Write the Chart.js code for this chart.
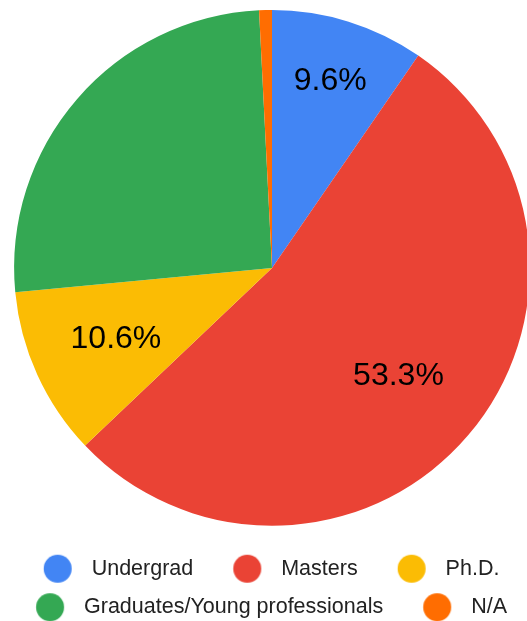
<!DOCTYPE html>
<html>
<head>
<meta charset="utf-8">
<script src="https://cdn.jsdelivr.net/npm/chart.js@4"></script>
<style>
    html, body { margin: 0; padding: 0; background: #fff; overflow: hidden; }
    #wrap { position: relative; width: 544px; height: 628px; }
</style>
</head>
<body>
<div id="wrap"><canvas id="pieChart"></canvas></div>
<script>
// -------------------------------
// DATA
// -------------------------------
const categories = ["Undergrad", "Masters", "Ph.D.", "Graduates/Young professionals", "N/A"];
const shares = [9.6, 53.3, 10.6, 25.7, 0.8];
const colors = ["#4285F4", "#EA4335", "#FBBC04", "#34A853", "#FF6D01"];
const unlabelled = ["Graduates/Young professionals", "N/A"];

const FONT = "'Liberation Sans', Arial, sans-serif";

// small round swatch for the legend, drawn a bit to the right of the box centre
function makeDot(color) {
    const c = document.createElement("canvas");
    c.width = 32;
    c.height = 32;
    const g = c.getContext("2d");
    g.fillStyle = color;
    g.beginPath();
    g.arc(16.9, 16, 14, 0, Math.PI * 2);
    g.fill();
    return c;
}

// -------------------------------
// SLICE LABELS
// -------------------------------
const sliceLabels = {
    id: "sliceLabels",
    afterDatasetsDraw(chart, args, opts) {
        const ctx = chart.ctx;
        const meta = chart.getDatasetMeta(0);
        const values = chart.data.datasets[0].data;
        const total = values.reduce((a, b) => a + b, 0);

        ctx.save();
        ctx.font = "32px " + FONT;
        ctx.fillStyle = "#000";
        ctx.textAlign = "center";
        ctx.textBaseline = "middle";

        meta.data.forEach((arc, i) => {
            if (unlabelled.includes(chart.data.labels[i])) return;
            const { x, y, startAngle, endAngle, outerRadius } = arc.getProps(["x", "y", "startAngle", "endAngle", "outerRadius"], true);
            const mid = (startAngle + endAngle) / 2;
            const r = outerRadius * (opts.radius[i] || 0.66);
            const pct = (values[i] / total * 100).toFixed(1) + "%";
            ctx.fillText(pct, x + Math.cos(mid) * r, y + Math.sin(mid) * r);
        });
        ctx.restore();
    }
};

// -------------------------------
// CHART
// -------------------------------
const pieCtx = document.getElementById("pieChart").getContext("2d");

let pieChart = new Chart(pieCtx, {
    type: "pie",
    data: {
        labels: categories,
        datasets: [{
            data: shares,
            backgroundColor: colors,
            borderWidth: 0,
            hoverOffset: 0,
            hoverBorderWidth: 0
        }]
    },
    options: {
        responsive: true,
        maintainAspectRatio: false,
        animation: false,
        events: [],
        layout: { padding: { top: 10, left: 0, right: 0, bottom: 0 } },
        plugins: {
            tooltip: { enabled: false },
            sliceLabels: { radius: [0.76, 0.645, 0.665] },
            legend: {
                position: "bottom",
                title: { display: true, text: "", padding: 0, font: { size: 15.25, lineHeight: 1 } },
                labels: {
                    usePointStyle: true,
                    pointStyleWidth: 48.25,
                    padding: 17,
                    color: "#222",
                    font: { family: FONT, size: 21.5 },
                    generateLabels: chart => {
                        const items = Chart.overrides.pie.plugins.legend.labels.generateLabels(chart);
                        return items.map(item => ({ ...item, text: item.text + "  ", pointStyle: makeDot(item.fillStyle) }));
                    }
                }
            }
        }
    },
    plugins: [sliceLabels]
});
</script>
</body>
</html>
